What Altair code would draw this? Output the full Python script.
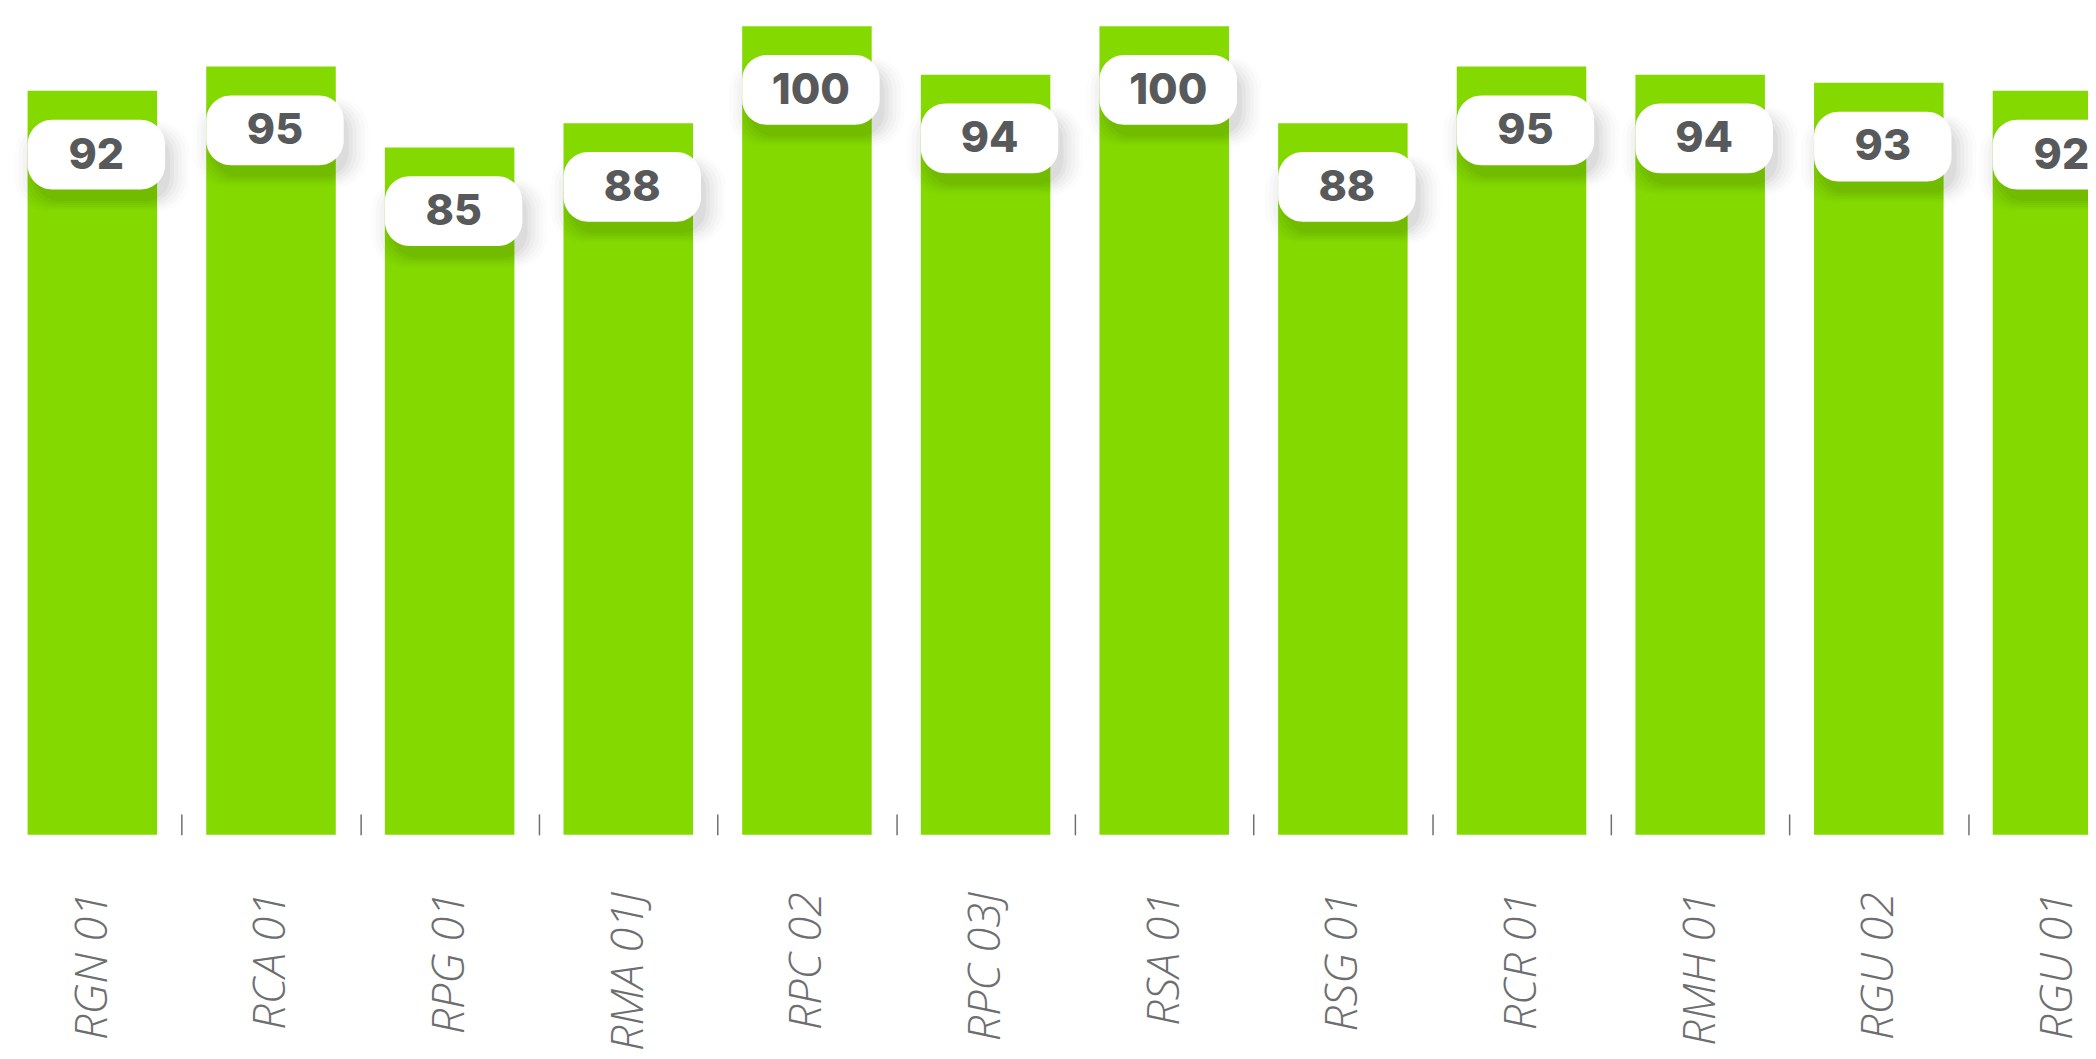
import altair as alt
import pandas as pd

categories = ["RGN 01", "RCA 01", "RPG 01", "RMA 01J", "RPC 02", "RPC 03J",
              "RSA 01", "RSG 01", "RCR 01", "RMH 01", "RGU 02", "RGU 01"]
values = [92, 95, 85, 88, 100, 94, 100, 88, 95, 94, 93, 92]

df = pd.DataFrame({"code": categories, "score": values})

BAR = "#84da00"
BOX_PATH = ("M-0.64,-0.507L0.64,-0.507C0.839,-0.507,1,-0.346,1,-0.147L1,0.147"
            "C1,0.346,0.839,0.507,0.64,0.507L-0.64,0.507C-0.839,0.507,-1,0.346,-1,0.147"
            "L-1,-0.147C-1,-0.346,-0.839,-0.507,-0.64,-0.507Z")

x = alt.X(
    "code:N", sort=categories, title=None,
    scale=alt.Scale(range=[-5, 2147], paddingInner=0, paddingOuter=0, round=False),
    axis=alt.Axis(
        tickBand="extent", tickSize=21, offset=-21, domain=False,
        tickColor="#6f6f6f", tickWidth=1.5, grid=False,
        labelAngle=270, labelAlign="right", labelBaseline="middle",
        labelPadding=57, labelFont="Open Sans", labelFontSize=45,
        labelFontStyle="italic", labelFontWeight=300, labelColor="#6d6e70",
        labelOverlap=False,
    ),
)
y = alt.Y("score:Q", scale=alt.Scale(domain=[0, 102]), axis=None)

base = alt.Chart(df).encode(x=x, y=y)

bars = base.mark_bar(color=BAR, width={"band": 0.725})

shadows = []
for w, op in [(136, 0.035), (144, 0.03), (152, 0.025), (160, 0.02), (168, 0.015), (176, 0.01)]:
    shadows.append(
        base.mark_point(shape=BOX_PATH, filled=True, color="#000000", opacity=op,
                        size=w * w, strokeWidth=0, xOffset=10, yOffset=76)
    )

boxes = base.mark_point(shape=BOX_PATH, filled=True, color="#ffffff", opacity=1,
                        size=138 * 138, strokeWidth=0, xOffset=4, yOffset=64)

labels = base.mark_text(font="Inter", fontSize=43, fontWeight=800,
                        color="#58595b", align="center", baseline="middle",
                        xOffset=4, yOffset=65).encode(text="score:Q")

chart = alt.layer(bars, *shadows, boxes, labels).properties(
    width=2088, height=828,
    autosize=alt.AutoSizeParams(type="none"),
    padding={"left": 0, "top": 0, "right": 0, "bottom": 213},
).configure_view(strokeWidth=0)

chart.save("out.html", embed_options={"renderer": "svg", "actions": False})
